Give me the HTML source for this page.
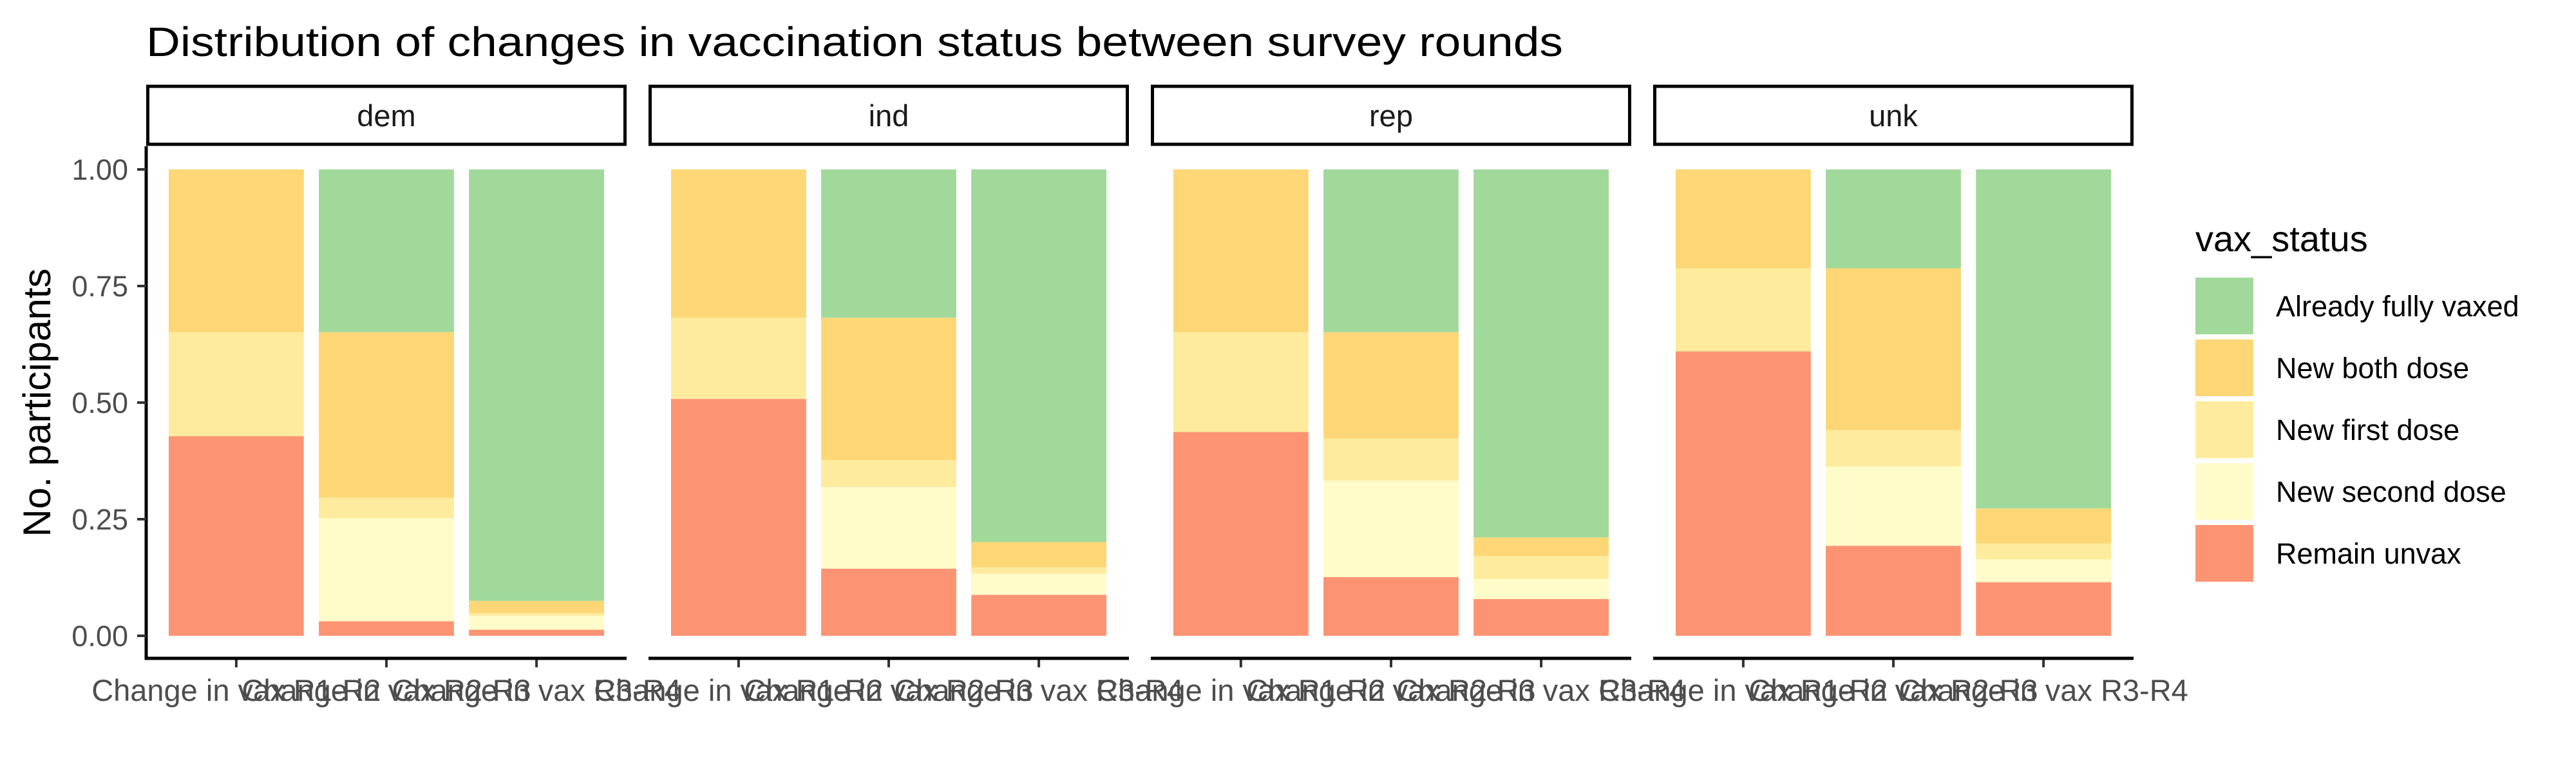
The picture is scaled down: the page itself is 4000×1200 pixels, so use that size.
<!DOCTYPE html>
<html><head><meta charset="utf-8"><style>
html,body{margin:0;padding:0;background:#fff;}
svg{display:block;font-family:"Liberation Sans",sans-serif;}
</style></head><body>
<svg id="chart" width="4000" height="1200" viewBox="0 0 4000 1200" xmlns="http://www.w3.org/2000/svg">
<text x="227" y="87" font-size="64" fill="#000" textLength="2200" lengthAdjust="spacingAndGlyphs">Distribution of changes in vaccination status between survey rounds</text>
<text transform="translate(78,625) rotate(-90)" text-anchor="middle" font-size="60" fill="#000">No. participants</text>
<g id="panels"></g>
<g id="legend"></g>
</svg>
<script>
const panels = ["dem","ind","rep","unk"];
const categories = ["Change in vax R1-R2","Change in vax R2-R3","Change in vax R3-R4"];
const statuses = ["Remain unvax","New second dose","New first dose","New both dose","Already fully vaxed"];
const legendOrder = ["Already fully vaxed","New both dose","New first dose","New second dose","Remain unvax"];
const yTicks = [0,0.25,0.5,0.75,1];
const yTickLabels = ["0.00","0.25","0.50","0.75","1.00"];
// segment shares per panel per category, stacking order = statuses
const remainUnvax     = [[0.428,0.031,0.013],[0.508,0.144,0.088],[0.437,0.126,0.079],[0.610,0.193,0.115]];
const newSecondDose   = [[0,0.221,0.030],[0,0.175,0.045],[0,0.207,0.043],[0,0.170,0.049]];
const newFirstDose    = [[0.223,0.044,0.006],[0.174,0.058,0.014],[0.214,0.090,0.049],[0.178,0.078,0.034]];
const newBothDose     = [[0.349,0.355,0.026],[0.318,0.305,0.054],[0.349,0.228,0.040],[0.212,0.347,0.075]];
const alreadyVaxed    = [[0,0.349,0.925],[0,0.318,0.799],[0,0.349,0.789],[0,0.212,0.727]];

const series = [remainUnvax,newSecondDose,newFirstDose,newBothDose,alreadyVaxed];
const colors = {"Remain unvax":"#FC9473","New second dose":"#FFFCCA","New first dose":"#FEEB9D","New both dose":"#FDD776","Already fully vaxed":"#A1D99B"};
const NS="http://www.w3.org/2000/svg";
const panelX0=227, panelStep=780, panelW=746;
const yTop=263, yBot=987, plotTop=227, plotBot=1022;
function yScale(v){return yBot-(yBot-yTop)*v;}
function xScale(p,i){const unit=panelW/3.2;return panelX0+p*panelStep+unit*(0.6+i);}
const bw=(panelW/3.2)*0.9;
function el(tag,attrs,parent){const e=document.createElementNS(NS,tag);for(const k in attrs)e.setAttribute(k,attrs[k]);parent.appendChild(e);return e;}
const gP=document.getElementById('panels');
panels.forEach((name,p)=>{
  const x0=panelX0+p*panelStep;
  const g=el('g',{},gP);
  
  
  const strip=el('rect',{x:x0+2.5,y:134,width:panelW-5,height:90,fill:'#fff',stroke:'#000','stroke-width':5},g);
  
  
  const st=el('text',{x:x0+panelW/2,y:196,'text-anchor':'middle','font-size':47,fill:'#1a1a1a'},g);
  st.textContent=name;
  
  
  categories.forEach((c,i)=>{
    let cum=0;
    const cx=xScale(p,i);
    series.forEach((s,k)=>{
      const v=s[p][i];
      if(v>0){
        const r=el('rect',{x:cx-bw/2,y:yScale(cum+v),width:bw,height:yScale(cum)-yScale(cum+v),fill:colors[statuses[k]]},g);
        
        
      }
      cum+=v;
    });
    const t=el('line',{x1:cx,x2:cx,y1:plotBot,y2:plotBot+14,stroke:'#333','stroke-width':4},g);
    
    
    const lt=el('text',{x:cx,y:1088,'text-anchor':'middle','font-size':47,fill:'#4d4d4d'},g);
    lt.textContent=c;
    
    
  });
  const ax=el('line',{x1:x0,x2:x0+panelW,y1:plotBot,y2:plotBot,stroke:'#000','stroke-width':5},g);
  
  
  if(p===0){
    const ay=el('line',{x1:x0,x2:x0,y1:plotTop,y2:plotBot+2.5,stroke:'#000','stroke-width':5},g);
    
    
    yTicks.forEach((v,j)=>{
      const tk=el('line',{x1:x0-14,x2:x0,y1:yScale(v),y2:yScale(v),stroke:'#333','stroke-width':4},g);
      
      
      const tl=el('text',{x:x0-28,y:yScale(v)+16,'text-anchor':'end','font-size':45,fill:'#4d4d4d'},g);
      tl.textContent=yTickLabels[j];
      
      
    });
  }
});
const gL=document.getElementById('legend');
const lt=el('text',{x:3409,y:390,'font-size':56,fill:'#000'},gL);
lt.textContent='vax_status';


legendOrder.forEach((s,i)=>{
  const y=431+i*96;
  const k=el('rect',{x:3409,y:y,width:90,height:88,fill:colors[s]},gL);
  
  
  const t=el('text',{x:3534,y:y+60,'font-size':45,fill:'#000'},gL);
  t.textContent=s;
  
  
});
</script>
</body></html>
